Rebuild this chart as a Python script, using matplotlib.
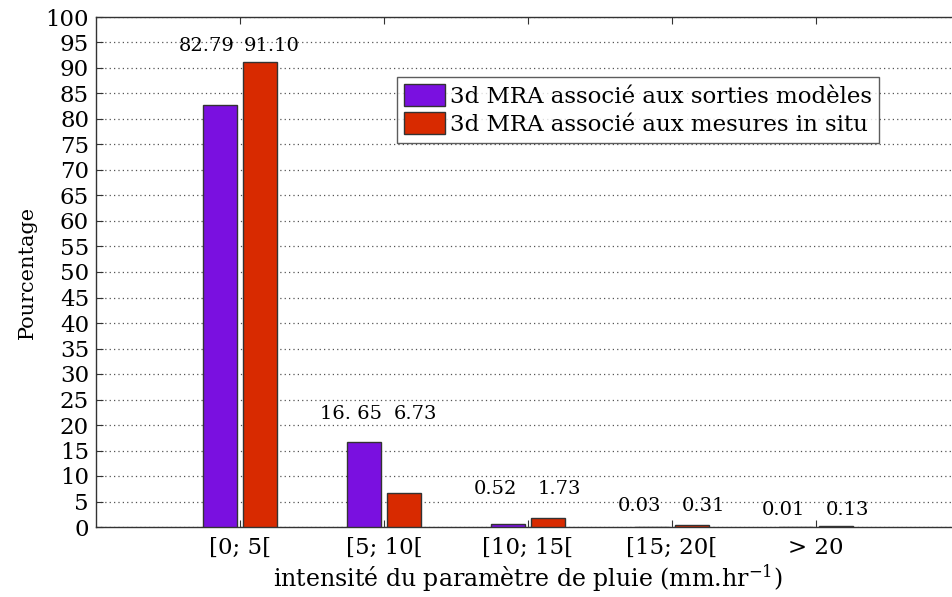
import matplotlib
matplotlib.use("Agg")
import matplotlib.pyplot as plt
import numpy as np

plt.rcParams['font.family'] = ['DejaVu Serif']
plt.rcParams['mathtext.fontset'] = 'dejavuserif'
plt.rcParams['mathtext.default'] = 'regular'

# data
categories = ['[0; 5[', '[5; 10[', '[10; 15[', '[15; 20[', '> 20']
modeles = [82.79, 16.65, 0.52, 0.03, 0.01]
in_situ = [91.10, 6.73, 1.73, 0.31, 0.13]
modeles_txt = ['82.79', '16. 65', '0.52', '0.03', '0.01']
in_situ_txt = ['91.10', '6.73', '1.73', '0.31', '0.13']

# label placement (height above the group max, in data units)
label_lift = [1.4, 3.7, 4.0, 2.1, 1.5]

purple = '#7a10e0'
red = '#d82a00'
edge = '#333333'

fig = plt.figure(figsize=(9.53, 5.97), dpi=100)
ax = fig.add_axes([96 / 953, 70 / 597, 864 / 953, 510 / 597])

x = np.arange(1, len(categories) + 1)
w = 0.236
off = 0.142

ax.bar(x - off, modeles, w, color=purple, edgecolor=edge, linewidth=1,
       label='3d MRA associé aux sorties modèles', zorder=3)
ax.bar(x + off, in_situ, w, color=red, edgecolor=edge, linewidth=1,
       label='3d MRA associé aux mesures in situ', zorder=3)

for i in range(len(categories)):
    top = max(modeles[i], in_situ[i]) + label_lift[i]
    ax.annotate(modeles_txt[i], (x[i] - off, top), xytext=(-9, 0),
                textcoords='offset points', ha='center', va='bottom', fontsize=14)
    ax.annotate(in_situ_txt[i], (x[i] + off, top), xytext=(8, 0),
                textcoords='offset points', ha='center', va='bottom', fontsize=14)

ax.set_xlim(0, 6)
ax.set_ylim(0, 100)
ax.set_yticks(np.arange(0, 101, 5))
ax.set_xticks(x)
ax.set_xticklabels(categories, fontsize=16.5)
ax.tick_params(axis='y', labelsize=16.5, direction='in', length=5, pad=5,
               right=True, color=edge)
ax.tick_params(axis='x', direction='in', length=5, pad=7, top=True, color=edge)

ax.yaxis.grid(True, linestyle=(0, (1, 2.5)), color='#555555', linewidth=0.9)
ax.set_axisbelow(True)
for s in ax.spines.values():
    s.set_color(edge)
    s.set_linewidth(1)

ax.set_ylabel('Pourcentage', fontsize=15, labelpad=6)
ax.set_xlabel('intensité du paramètre de pluie (mm.hr$^{-1}$)', fontsize=17, labelpad=3)

leg = ax.legend(loc='upper left', bbox_to_anchor=(301 / 864, 450 / 510),
                fontsize=16.5, frameon=True, fancybox=False, edgecolor=edge,
                handlelength=1.8, handleheight=1.1, handletextpad=0.2,
                borderpad=0.3, labelspacing=0.2, borderaxespad=0)
leg.get_frame().set_linewidth(1)

fig.savefig('out.png', dpi=100)
